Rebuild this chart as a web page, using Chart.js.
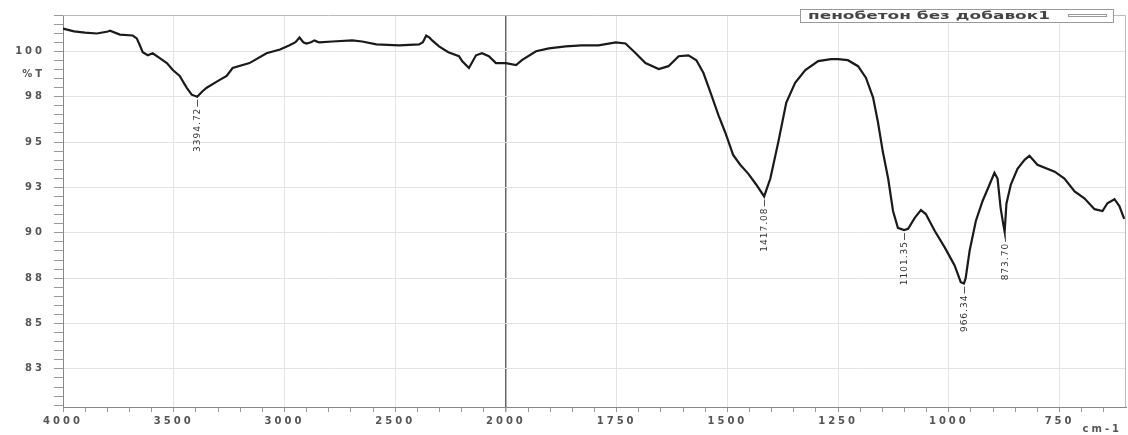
<!DOCTYPE html>
<html>
<head>
<meta charset="utf-8">
<script src="https://cdn.jsdelivr.net/npm/chart.js@4.4.1/dist/chart.umd.min.js"></script>
<style>
  html, body { margin: 0; padding: 0; background: #fff; }
  #wrap { width: 1128px; height: 435px; }
</style>
</head>
<body>
<div id="wrap"><canvas id="ir"></canvas></div>
<script>
/* global Chart */

// spectrum (cm-1, %T)
const wavenumbers = [
  4000, 3950, 3901, 3847, 3797, 3788, 3743, 3685, 3667, 3653, 3640, 3617, 3595, 3563, 3531, 3504,
  3473, 3441, 3419, 3394, 3370, 3351, 3300, 3261, 3234, 3158, 3081, 3020, 2977, 2950, 2932, 2915,
  2901, 2880, 2865, 2850, 2842, 2784, 2694, 2649, 2585, 2482, 2392, 2375, 2360, 2345, 2333, 2302,
  2260, 2212, 2198, 2167, 2135, 2108, 2077, 2045, 2000,
  1977, 1964, 1932, 1903, 1865, 1829, 1791, 1752, 1730, 1707, 1685, 1655, 1633, 1610, 1588, 1570,
  1554, 1538, 1520, 1505, 1487, 1471, 1453, 1435, 1417, 1403, 1385, 1367, 1347, 1324, 1295, 1266,
  1250, 1228, 1205, 1187, 1171, 1160, 1149, 1137, 1126, 1115, 1101, 1092, 1077, 1063, 1052, 1032,
  1009, 987, 973, 966, 962, 953, 939, 924, 908, 897, 890, 883, 878, 874, 870, 860, 845, 829, 818,
  800, 761, 739, 716, 694, 671, 653, 642, 626, 615, 604
];
const transmittance = [
  101.25, 101.1, 101.03, 100.98, 101.09, 101.14, 100.92, 100.87, 100.71, 100.33, 99.95, 99.78, 99.89, 99.62, 99.35, 98.97,
  98.64, 97.99, 97.61, 97.5, 97.8, 97.99, 98.37, 98.64, 99.08, 99.35, 99.89, 100.1, 100.33, 100.5, 100.76, 100.5,
  100.43, 100.5, 100.6, 100.52, 100.49, 100.54, 100.6, 100.54, 100.38, 100.33, 100.38, 100.5, 100.87, 100.75, 100.6, 100.27,
  99.95, 99.73, 99.46, 99.08, 99.78, 99.89, 99.73, 99.35, 99.35,
  99.24, 99.51, 100.0, 100.16, 100.27, 100.33, 100.33, 100.49, 100.43, 99.89, 99.35, 99.02, 99.18, 99.73, 99.78, 99.51,
  98.8, 97.72, 96.47, 95.54, 94.29, 93.75, 93.26, 92.66, 92.0, 92.99, 95.0, 97.17, 98.26, 98.97, 99.46, 99.57,
  99.57, 99.51, 99.18, 98.53, 97.45, 96.09, 94.46, 92.99, 91.2, 90.27, 90.15, 90.22, 90.82, 91.25, 91.03, 90.11,
  89.18, 88.2, 87.28, 87.2, 87.5, 89.02, 90.65, 91.74, 92.66, 93.3, 92.99, 91.36, 90.6, 90.05, 91.6, 92.66, 93.53, 94.02, 94.24,
  93.75, 93.37, 92.99, 92.28, 91.9, 91.3, 91.2, 91.63, 91.85, 91.47, 90.76
];

const peakWavenumbers = [3394.72, 1417.08, 1101.35, 966.34, 873.70];
const peakTransmittance = [97.5, 92.0, 90.15, 87.2, 90.05];

const xMajorTicks = [4000, 3500, 3000, 2500, 2000, 1750, 1500, 1250, 1000, 750];
const yTitleValue = 98.75;
const legendText = "пенобетон без добавок1";

const X_MIN = 600;
const X_MAX = 4000;
const X_BREAK = 2000;
const X_STRETCH = 2; // below 2000 cm-1 the axis is twice as wide

// minor ticks: every 100 above the break, every 50 below
const xTicks = [];
for (let v = X_MAX; v >= X_BREAK; v -= 100) xTicks.push(v);
for (let v = X_BREAK - 50; v >= 650; v -= 50) xTicks.push(v);

class SplitWavenumberScale extends Chart.LinearScale {
  buildTicks() {
    this.start = this.min;
    this.end = this.max;
    return xTicks.map((v) => ({ value: v }));
  }
  _decimal(v) {
    const total = (X_MAX - X_BREAK) + (X_BREAK - X_MIN) * X_STRETCH;
    const d = v >= X_BREAK ? X_MAX - v : (X_MAX - X_BREAK) + (X_BREAK - v) * X_STRETCH;
    return d / total;
  }
  getPixelForValue(v) {
    return this.getPixelForDecimal(this._decimal(v));
  }
  getValueForPixel(p) {
    const total = (X_MAX - X_BREAK) + (X_BREAK - X_MIN) * X_STRETCH;
    const d = this.getDecimalForPixel(p) * total;
    if (d <= X_MAX - X_BREAK) return X_MAX - d;
    return X_BREAK - (d - (X_MAX - X_BREAK)) / X_STRETCH;
  }
}
SplitWavenumberScale.id = "splitWavenumber";
SplitWavenumberScale.defaults = Chart.LinearScale.defaults;
Chart.register(SplitWavenumberScale);

const isMajorY = (v) => Math.abs((v * 2) % 5) < 1e-6;

const tickFont = { family: "DejaVu Sans", size: 10, weight: "bold" };

const decorPlugin = {
  id: "decor",
  beforeDraw(chart) {
    chart.ctx.letterSpacing = "3px";
  },
  afterDraw(chart) {
    const { ctx, chartArea: a } = chart;
    const xs = chart.scales.x;
    const ys = chart.scales.y;
    ctx.save();
    ctx.letterSpacing = "0px";
    // frame top/right
    ctx.strokeStyle = "#bbbbbb";
    ctx.lineWidth = 1;
    ctx.beginPath();
    ctx.moveTo(a.left, a.top + 0.5);
    ctx.lineTo(a.right - 0.5, a.top + 0.5);
    ctx.lineTo(a.right - 0.5, a.bottom);
    ctx.stroke();

    // peak labels
    ctx.fillStyle = "#333";
    ctx.strokeStyle = "#555";
    ctx.font = "9px 'DejaVu Sans'";
    ctx.letterSpacing = "1px";
    peakWavenumbers.forEach((wn, i) => {
      const px = Math.round(xs.getPixelForValue(wn)) + 0.5;
      const py = ys.getPixelForValue(peakTransmittance[i]);
      ctx.beginPath();
      ctx.moveTo(px, py + 3);
      ctx.lineTo(px, py + 10);
      ctx.stroke();
      ctx.save();
      ctx.translate(px, py + 11);
      ctx.rotate(-Math.PI / 2);
      ctx.textAlign = "right";
      ctx.textBaseline = "middle";
      ctx.fillText(wn.toFixed(2), 0, 0);
      ctx.restore();
    });

    // legend box
    ctx.letterSpacing = "0px";
    const bx = 800, by = 9, bw = 313, bh = 13;
    ctx.fillStyle = "#fff";
    ctx.fillRect(bx, by, bw, bh);
    ctx.strokeStyle = "#999";
    ctx.strokeRect(bx + 0.5, by + 0.5, bw, bh);
    ctx.font = "bold 10px 'DejaVu Sans'";
    const w = ctx.measureText(legendText).width;
    ctx.save();
    ctx.translate(808, by + bh / 2 + 1);
    ctx.scale(242 / w, 1);
    ctx.fillStyle = "#444";
    ctx.textBaseline = "middle";
    ctx.fillText(legendText, 0, 0);
    ctx.restore();
    ctx.strokeStyle = "#999";
    ctx.strokeRect(1068.5, by + 5.5, 38, 2);

    // unit
    ctx.fillStyle = "#555";
    ctx.font = "bold 10px 'DejaVu Sans'";
    ctx.letterSpacing = "3px";
    ctx.textAlign = "right";
    ctx.textBaseline = "middle";
    ctx.fillText("cm-1", 1122, 429);
    ctx.restore();
  },
};

new Chart(document.getElementById("ir"), {
  type: "line",
  data: {
    datasets: [
      {
        label: legendText,
        data: wavenumbers.map((wn, i) => ({ x: wn, y: transmittance[i] })),
        borderColor: "#1a1a1a",
        borderWidth: 2.2,
        pointRadius: 0,
        tension: 0,
        fill: false,
      },
    ],
  },
  options: {
    responsive: true,
    maintainAspectRatio: false,
    animation: false,
    layout: { padding: { top: 12, right: 2, left: 0, bottom: 0 } },
    plugins: { legend: { display: false }, tooltip: { enabled: false } },
    scales: {
      x: {
        type: "splitWavenumber",
        min: X_MIN,
        max: X_MAX,
        afterFit: (s) => { s.height = 28; },
        border: { color: "#888", width: 1 },
        grid: {
          color: (c) => {
            const v = c.tick && c.tick.value;
            if (v === X_BREAK) return "#666";
            return xMajorTicks.includes(v) ? "#e3e3e3" : "rgba(0,0,0,0)";
          },
          lineWidth: (c) => (c.tick && c.tick.value === X_BREAK ? 1.5 : 1),
          tickColor: "#999",
          tickLength: 5,
        },
        ticks: {
          autoSkip: false,
          maxRotation: 0,
          padding: 3,
          color: "#555",
          font: tickFont,
          callback: (v) => (xMajorTicks.includes(v) ? String(v) : ""),
        },
      },
      y: {
        type: "linear",
        min: 80.4,
        max: 102,
        afterFit: (s) => { s.width = 63; },
        afterBuildTicks: (s) => {
          const t = [];
          for (let i = 161; i <= 204; i++) t.push({ value: i / 2 });
          t.push({ value: yTitleValue });
          s.ticks = t;
        },
        border: { color: "#888", width: 1 },
        grid: {
          color: (c) => (c.tick && c.tick.value !== yTitleValue && isMajorY(c.tick.value) ? "#e3e3e3" : "rgba(0,0,0,0)"),
          tickColor: (c) => (c.tick && c.tick.value === yTitleValue ? "rgba(0,0,0,0)" : "#999"),
          tickLength: 9,
        },
        ticks: {
          autoSkip: false,
          padding: 9,
          color: "#555",
          font: tickFont,
          callback: (v) => {
            if (v === yTitleValue) return "%T";
            return isMajorY(v) ? String(Math.round(v)) : "";
          },
        },
      },
    },
  },
  plugins: [decorPlugin],
});
</script>
</body>
</html>
